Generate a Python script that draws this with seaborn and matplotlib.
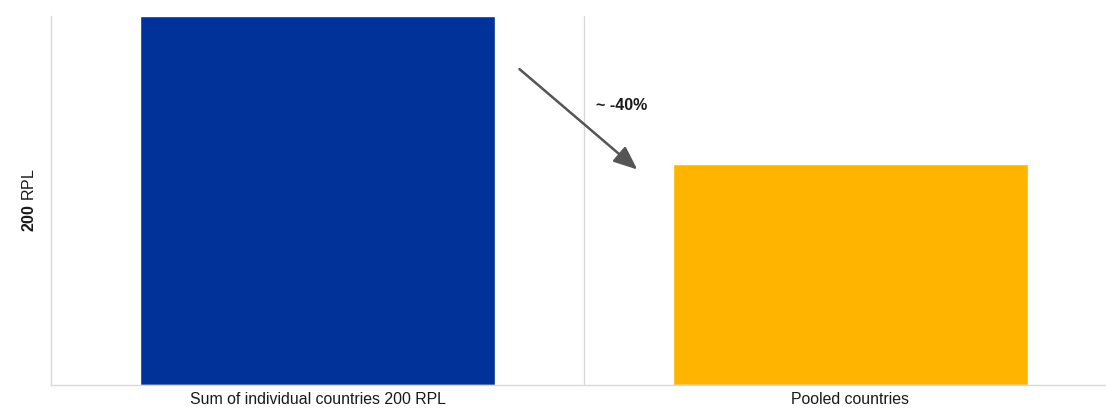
import matplotlib
matplotlib.use("Agg")
import matplotlib.pyplot as plt
import seaborn as sns
import pandas as pd

categories = ["Sum of individual countries 200 RPL", "Pooled countries"]
values = [1.0, 0.6]
colors = ["#003299", "#FFB400"]
y_label_bold = "200"
y_label_rest = "RPL"
annotation = "~ -40%"

sns.set_theme(style="white")
plt.rcParams["font.family"] = ["Liberation Sans", "DejaVu Sans"]
plt.rcParams["mathtext.fontset"] = "custom"
plt.rcParams["mathtext.rm"] = "Liberation Sans"
plt.rcParams["mathtext.bf"] = "Liberation Sans:bold"

fig = plt.figure(figsize=(11.06, 4.13), dpi=100)
ax = fig.add_axes([51 / 1106, 1 - 385 / 413, 1066 / 1106, 369 / 413])

df = pd.DataFrame({"cat": categories, "val": values})
sns.barplot(data=df, x="cat", y="val", hue="cat", palette=colors, legend=False,
            width=0.667, saturation=1, ax=ax)

ax.set_xlim(-0.5, 1.5)
ax.set_ylim(0, values[0])
ax.set_yticks([])
ax.set_xlabel("")
ax.set_ylabel(r"$\bf{" + y_label_bold + "}$ " + y_label_rest, fontsize=11.5, color="#1a1a1a", labelpad=10)
ax.tick_params(axis="x", length=0, labelsize=11.4, labelcolor="#1a1a1a", pad=5)
ax.axvline(0.5, color="#d9d9d9", lw=1, zorder=0)

for side in ["top", "right"]:
    ax.spines[side].set_visible(False)
for side in ["left", "bottom"]:
    ax.spines[side].set_color("#d9d9d9")
    ax.spines[side].set_linewidth(1)

ax.annotate("", xy=(0.604, 0.579), xytext=(0.375, 0.861),
            arrowprops=dict(arrowstyle="-|>,head_length=1.2,head_width=0.5", color="#555555", lw=1.8))
ax.text(0.523, 0.758, annotation, fontsize=11.5, fontweight="bold", color="#1a1a1a",
        ha="left", va="center")

fig.savefig("out.png", dpi=100)
